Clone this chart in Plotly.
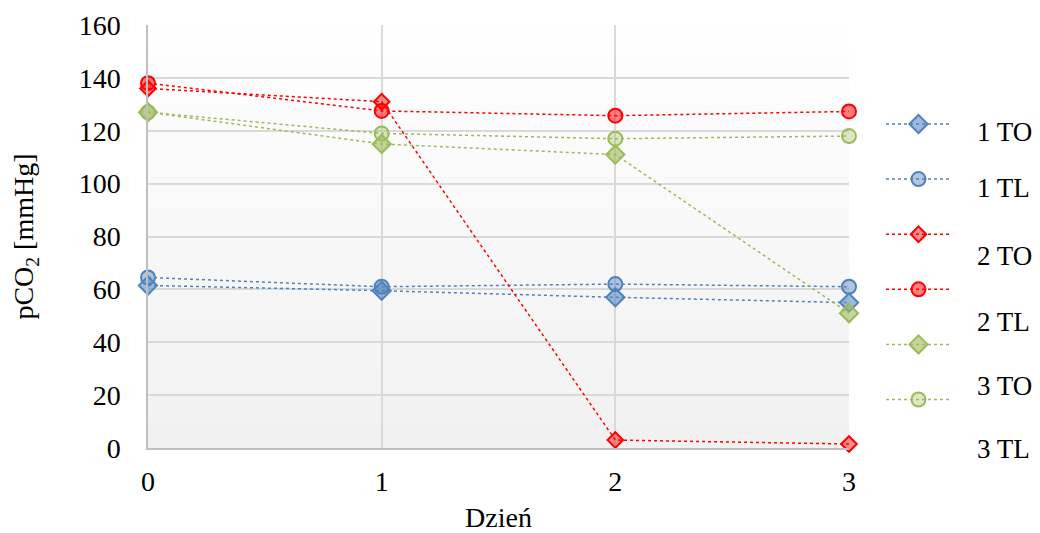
import plotly.graph_objects as go

days = [0, 1, 2, 3]
names = ["1 TO", "1 TL", "2 TO", "2 TL", "3 TO", "3 TL"]
v_1TO = [61.5, 59.5, 57, 55]
v_1TL = [64.5, 61, 62, 61]
v_2TO = [136, 131, 3, 1.5]
v_2TL = [138, 127.5, 125.7, 127.3]
v_3TO = [127, 115, 111, 51]
v_3TL = [127, 119, 117, 118]
series = [v_1TO, v_1TL, v_2TO, v_2TL, v_3TO, v_3TL]

y_ticks = [0, 20, 40, 60, 80, 100, 120, 140, 160]
x_ticks = [0, 1, 2, 3]

styles = [
    dict(line="#4F81BD", fill="rgba(79,129,189,0.55)", symbol="diamond", size=14),
    dict(line="#4F81BD", fill="rgba(79,129,189,0.45)", symbol="circle", size=14),
    dict(line="#FF0000", fill="rgba(255,0,0,0.45)", symbol="diamond", size=12),
    dict(line="#FF0000", fill="rgba(255,0,0,0.5)", symbol="circle", size=14),
    dict(line="#9BBB59", fill="rgba(155,187,89,0.6)", symbol="diamond", size=14),
    dict(line="#9BBB59", fill="rgba(155,187,89,0.35)", symbol="circle", size=14),
]

FONT = "Liberation Serif"
FS = 28

fig = go.Figure()

# subtle vertical gradient in plot area
nb = 30
for i in range(nb):
    t = (i + 0.5) / nb
    c = int(255 - 14 * (1 - t))
    fig.add_shape(type="rect", xref="x domain", yref="y domain",
                  x0=0, x1=1, y0=i / nb, y1=(i + 1) / nb,
                  fillcolor=f"rgb({c},{c},{c})", line_width=0, layer="below")

for name, vals, st in zip(names, series, styles):
    fig.add_trace(go.Scatter(
        x=days, y=vals, name=name, mode="lines+markers",
        legendgroup=name,
        line=dict(color=st["line"], width=1.5, dash="dot"),
        marker=dict(symbol=st["symbol"], size=st["size"], color=st["fill"],
                    line=dict(color=st["line"], width=2)),
        cliponaxis=False,
    ))

# legend labels (drawn in reference offset positions)
label_y_px = [132, 188, 256, 322, 386, 449]
for name, py in zip(names, label_y_px):
    fig.add_annotation(text=name, xref="paper", yref="paper",
                       x=(975 - 148) / 701, y=(448 - py) / 423,
                       xanchor="left", yanchor="middle", showarrow=False,
                       font=dict(family=FONT, size=27, color="black"))

fig.update_layout(
    width=1032, height=525,
    margin=dict(l=140, r=191, t=17, b=85, autoexpand=False),
    paper_bgcolor="white", plot_bgcolor="white",
    font=dict(family=FONT, size=FS, color="black"),
    showlegend=True,
    legend=dict(x=(881 - 148) / 701, y=(448 - 109.5) / 423, xanchor="left", yanchor="top",
                font=dict(size=1, color="rgba(0,0,0,0)"),
                tracegroupgap=36.1, itemwidth=65, bgcolor="rgba(0,0,0,0)"),
    xaxis=dict(range=[0, 3], tickvals=x_ticks, showgrid=True, gridcolor="#D9D9D9",
               gridwidth=1.5, zeroline=False, showline=True, linecolor="#BFBFBF", linewidth=1.5,
               ticks="outside", ticklen=8, tickcolor="rgba(0,0,0,0)", automargin=False,
               title=dict(text="Dzień", standoff=13, font=dict(size=FS))),
    yaxis=dict(range=[0, 160], tickvals=y_ticks, showgrid=True, gridcolor="#D9D9D9",
               gridwidth=1.5, zeroline=False, showline=True, linecolor="#BFBFBF", linewidth=1.5,
               ticks="outside", ticklen=20, tickcolor="rgba(0,0,0,0)", automargin=False,
               title=dict(text="pCO<sub>2</sub> [mmHg]", standoff=38, font=dict(size=FS))),
)

fig.write_html("out.html")
